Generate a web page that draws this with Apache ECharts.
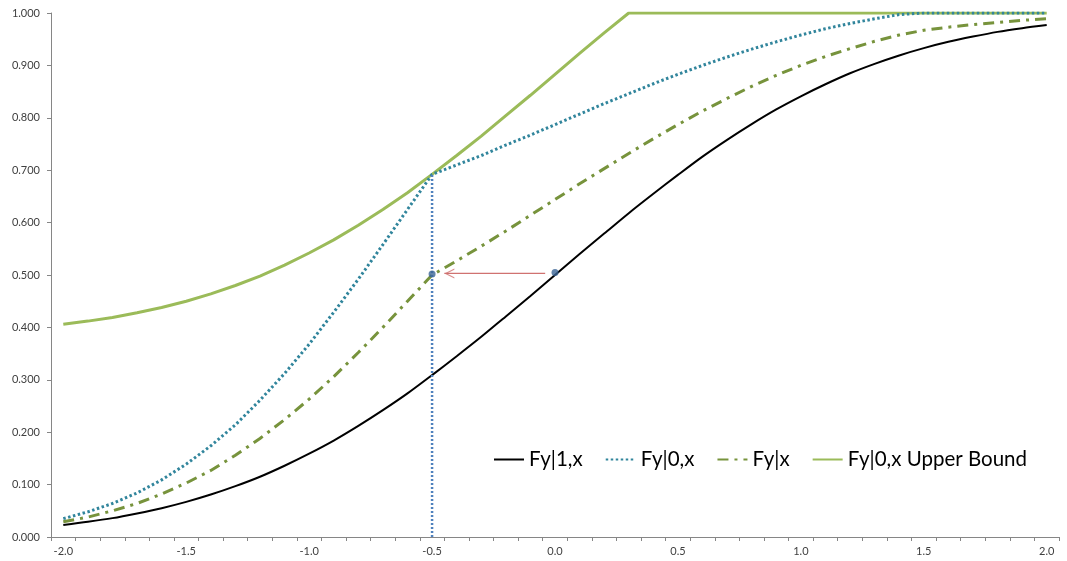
<!DOCTYPE html>
<html>
<head>
<meta charset="utf-8">
<script src="https://cdn.jsdelivr.net/npm/echarts@6/dist/echarts.min.js"></script>
<style>
html,body{margin:0;padding:0;background:#fff;}
#chart{width:1067px;height:561px;}
</style>
</head>
<body>
<div id="chart"></div>
<script>
const xValues = [-2.0,-1.9,-1.8,-1.7,-1.6,-1.5,-1.4,-1.3,-1.2,-1.1,-1.0,
  -0.9,-0.8,-0.7,-0.6,-0.5,-0.4,-0.3,-0.2,-0.1,0.0,
  0.1,0.2,0.3,0.4,0.5,0.6,0.7,0.8,0.9,1.0,
  1.1,1.2,1.3,1.4,1.5,1.6,1.7,1.8,1.9,2.0];
const fy1x = [0.023,0.029,0.036,0.045,0.055,0.067,0.081,0.097,0.115,0.136,0.159,
  0.184,0.212,0.242,0.274,0.309,0.345,0.382,0.421,0.460,0.500,
  0.540,0.579,0.618,0.655,0.691,0.726,0.758,0.788,0.816,0.841,
  0.864,0.885,0.903,0.919,0.933,0.945,0.955,0.964,0.971,0.977];
const fy0x = [0.035,0.048,0.064,0.084,0.109,0.139,0.174,0.214,0.261,0.312,0.368,
  0.429,0.492,0.558,0.625,0.692,0.710,0.728,0.748,0.767,0.787,
  0.807,0.827,0.846,0.865,0.883,0.900,0.916,0.931,0.945,0.958,
  0.970,0.980,0.989,0.997,1.000,1.000,1.000,1.000,1.000,1.000];
const fyx = [0.029,0.038,0.050,0.064,0.082,0.103,0.127,0.156,0.188,0.224,0.263,
  0.306,0.352,0.400,0.450,0.500,0.527,0.555,0.584,0.614,0.644,
  0.674,0.703,0.732,0.760,0.787,0.813,0.837,0.860,0.881,0.900,
  0.917,0.932,0.946,0.958,0.967,0.973,0.978,0.982,0.986,0.989];
const fy0xUpper = [0.406,0.412,0.419,0.428,0.438,0.450,0.464,0.480,0.498,0.519,0.542,
  0.567,0.595,0.625,0.657,0.692,0.728,0.765,0.804,0.843,0.883,
  0.923,0.962,1.000,1.000,1.000,1.000,1.000,1.000,1.000,1.000,
  1.000,1.000,1.000,1.000,1.000,1.000,1.000,1.000,1.000,1.000];
const verticalLine = [[-0.5, 0.0], [-0.5, 0.692]];
const markerPoints = [[-0.5, 0.502], [0.0, 0.505]];
const arrowFrom = [-0.04, 0.503];
const arrowTo = [-0.45, 0.503];
const yTicks = [0,0.1,0.2,0.3,0.4,0.5,0.6,0.7,0.8,0.9,1.0];
const seriesNames = ['Fy|1,x','Fy|0,x','Fy|x','Fy|0,x Upper Bound'];

const xLabels = xValues.map(v => v.toFixed(1));
const pairs = arr => xValues.map((x, i) => [x, arr[i]]);
const FONT = 'Lato, "Open Sans", sans-serif';
const ARROW = '#D07270';

const chart = echarts.init(document.getElementById('chart'), null, {renderer: 'canvas'});
chart.setOption({
  animation: false,
  backgroundColor: '#ffffff',
  grid: {left: 51, right: 8, top: 13, bottom: 24, containLabel: false},
  legend: {
    data: seriesNames,
    left: 488, top: 444,
    itemWidth: 30, itemHeight: 14, itemGap: 22,
    itemStyle: {opacity: 0},
    textStyle: {fontSize: 20.5, color: '#000', fontFamily: FONT}
  },
  xAxis: [{
    type: 'category',
    data: xLabels,
    boundaryGap: true,
    axisLine: {show: true, onZero: false, lineStyle: {color: '#868686', width: 1}},
    axisTick: {show: true, interval: 0, length: 4, lineStyle: {color: '#868686'}},
    axisLabel: {interval: 4, fontSize: 11, color: '#404040', fontFamily: FONT, margin: 9},
    splitLine: {show: false}
  }, {
    type: 'value', min: -2.05, max: 2.05, show: false
  }],
  yAxis: {
    type: 'value', min: yTicks[0], max: yTicks[yTicks.length - 1], interval: 0.1,
    axisLine: {show: true, onZero: false, lineStyle: {color: '#868686', width: 1}},
    axisTick: {show: true, length: 4, lineStyle: {color: '#868686'}},
    axisLabel: {fontSize: 11, color: '#404040', fontFamily: FONT, margin: 11,
      formatter: v => v.toFixed(3)},
    splitLine: {show: false}
  },
  series: [
    {name: seriesNames[3], type: 'line', xAxisIndex: 1, data: pairs(fy0xUpper), symbol: 'none',
      lineStyle: {color: '#9BBB59', width: 3}, itemStyle: {color: '#9BBB59'}, z: 2},
    {name: seriesNames[1], type: 'line', xAxisIndex: 1, data: pairs(fy0x), symbol: 'none',
      lineStyle: {color: '#31859C', width: 3, type: [2.5, 2.5]}, itemStyle: {color: '#31859C'}, z: 3},
    {name: seriesNames[2], type: 'line', xAxisIndex: 1, data: pairs(fyx), symbol: 'none',
      lineStyle: {color: '#77933C', width: 3, type: [11, 6, 3, 6]}, itemStyle: {color: '#77933C'}, z: 3},
    {name: seriesNames[0], type: 'line', xAxisIndex: 1, data: pairs(fy1x), symbol: 'none', smooth: 0.3,
      lineStyle: {color: '#000000', width: 2}, itemStyle: {color: '#000000'}, z: 4},
    {name: 'vertical', type: 'line', xAxisIndex: 1, data: verticalLine, symbol: 'none',
      lineStyle: {color: '#4F81BD', width: 2.5, type: [2, 2]}, z: 5, silent: true},
    {name: 'arrowShaft', type: 'line', xAxisIndex: 1, data: [arrowFrom, arrowTo], symbol: 'none',
      lineStyle: {color: ARROW, width: 1.2}, z: 5, silent: true},
    {name: 'arrowHead', type: 'scatter', xAxisIndex: 1, data: [arrowTo],
      symbol: 'path://M0,5 L10,0 L10,1.3 L2.6,5 L10,8.7 L10,10 Z', symbolSize: [10, 10],
      symbolKeepAspect: true, symbolOffset: [5, 0],
      itemStyle: {color: ARROW}, z: 5, silent: true},
    {name: 'points', type: 'scatter', xAxisIndex: 1, data: markerPoints, symbol: 'circle', symbolSize: 7,
      itemStyle: {color: '#3B6596'}, z: 6, silent: true}
  ]
});
</script>
</body>
</html>
